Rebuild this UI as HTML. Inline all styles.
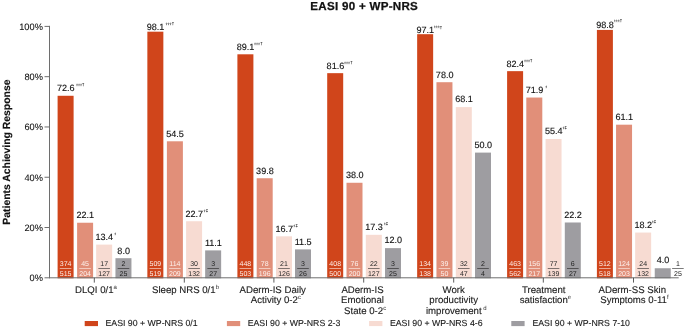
<!DOCTYPE html>
<html><head><meta charset="utf-8"><title>EASI 90 + WP-NRS</title>
<style>
html,body{margin:0;padding:0;background:#fff;}
body{width:685px;height:328px;overflow:hidden;}
svg{display:block;will-change:transform;font-family:"Liberation Sans",sans-serif;}
text{fill:#1a1a1a;text-rendering:geometricPrecision;}
.t{font-size:11.6px;letter-spacing:0.28px;font-weight:bold;fill:#111;stroke:#111;stroke-width:0.25px;}
.yl{font-size:10.4px;font-weight:bold;fill:#111;stroke:#111;stroke-width:0.15px;}
.tk{font-size:9.25px;fill:#111;stroke:#111;stroke-width:0.08px;}
.v{font-size:9.05px;fill:#111;stroke:#111;stroke-width:0.13px;}
.s{font-size:4.7px;fill:#3a3a3a;stroke:#3a3a3a;stroke-width:0.12px;}
.sa{font-size:8px;fill:#444;stroke:#444;stroke-width:0.1px;}
.sd{font-size:4.2px;fill:#333;stroke:#333;stroke-width:0.15px;}
.c{font-size:9.65px;fill:#1a1a1a;stroke:#1a1a1a;stroke-width:0.12px;}
.cs{font-size:6px;fill:#333;stroke:none;}
.f{font-size:7px;}
.lg{font-size:8.75px;fill:#1a1a1a;stroke:#1a1a1a;stroke-width:0.12px;}
</style></head><body>
<svg width="685" height="328" viewBox="0 0 685 328">
<rect width="685" height="328" fill="#fff"/>
<text class="t" x="364.2" y="10.2" text-anchor="middle">EASI 90 + WP-NRS</text>
<text class="yl" transform="translate(9.9,152.1) rotate(-90)" text-anchor="middle">Patients Achieving Response</text>

<rect x="57.60" y="95.78" width="16" height="182.52" fill="#D0451B"/>
<rect x="77.10" y="222.74" width="16" height="55.56" fill="#E18F79"/>
<rect x="96.15" y="244.61" width="16" height="33.69" fill="#F7DBD2"/>
<rect x="115.45" y="258.19" width="16" height="20.11" fill="#9E9DA1"/>
<rect x="147.35" y="31.68" width="16" height="246.62" fill="#D0451B"/>
<rect x="166.90" y="141.29" width="16" height="137.01" fill="#E18F79"/>
<rect x="186.10" y="221.23" width="16" height="57.07" fill="#F7DBD2"/>
<rect x="205.15" y="250.39" width="16" height="27.91" fill="#9E9DA1"/>
<rect x="237.40" y="54.30" width="16" height="224.00" fill="#D0451B"/>
<rect x="256.70" y="178.24" width="16" height="100.06" fill="#E18F79"/>
<rect x="276.00" y="236.32" width="16" height="41.98" fill="#F7DBD2"/>
<rect x="295.00" y="249.39" width="16" height="28.91" fill="#9E9DA1"/>
<rect x="327.20" y="73.16" width="16" height="205.14" fill="#D0451B"/>
<rect x="346.50" y="182.77" width="16" height="95.53" fill="#E18F79"/>
<rect x="365.80" y="234.81" width="16" height="43.49" fill="#F7DBD2"/>
<rect x="385.00" y="248.13" width="16" height="30.17" fill="#9E9DA1"/>
<rect x="417.15" y="34.19" width="16" height="244.11" fill="#D0451B"/>
<rect x="436.45" y="82.21" width="16" height="196.09" fill="#E18F79"/>
<rect x="455.80" y="107.10" width="16" height="171.20" fill="#F7DBD2"/>
<rect x="475.00" y="152.60" width="16" height="125.70" fill="#9E9DA1"/>
<rect x="507.10" y="71.15" width="16" height="207.15" fill="#D0451B"/>
<rect x="526.30" y="97.54" width="16" height="180.76" fill="#E18F79"/>
<rect x="545.55" y="139.02" width="16" height="139.28" fill="#F7DBD2"/>
<rect x="564.80" y="222.49" width="16" height="55.81" fill="#9E9DA1"/>
<rect x="596.90" y="29.92" width="16" height="248.38" fill="#D0451B"/>
<rect x="616.05" y="124.69" width="16" height="153.61" fill="#E18F79"/>
<rect x="635.15" y="232.55" width="16" height="45.75" fill="#F7DBD2"/>
<rect x="654.75" y="268.24" width="16" height="10.06" fill="#9E9DA1"/>
<g stroke="#6e6e6e" stroke-width="1" fill="none">
<line x1="49.5" y1="25.90" x2="49.5" y2="278.3"/>
<line x1="44.5" y1="277.8" x2="678.7" y2="277.8"/>
<line x1="44.5" y1="227.52" x2="50" y2="227.52"/>
<line x1="44.5" y1="177.24" x2="50" y2="177.24"/>
<line x1="44.5" y1="126.96" x2="50" y2="126.96"/>
<line x1="44.5" y1="76.68" x2="50" y2="76.68"/>
<line x1="44.5" y1="26.40" x2="50" y2="26.40"/>
</g>
<text class="tk" x="42.9" y="281.15" text-anchor="end">0%</text>
<text class="tk" x="42.9" y="230.87" text-anchor="end">20%</text>
<text class="tk" x="42.9" y="180.59" text-anchor="end">40%</text>
<text class="tk" x="42.9" y="130.31" text-anchor="end">60%</text>
<text class="tk" x="42.9" y="80.03" text-anchor="end">80%</text>
<text class="tk" x="42.9" y="29.75" text-anchor="end">100%</text>
<line x1="94.30" y1="277.8" x2="94.30" y2="282.6" stroke="#333" stroke-width="0.8"/>
<text class="v" x="65.80" y="91.13" text-anchor="middle">72.6</text>
<text class="sa" x="76.20" y="89.18" textLength="1.6" lengthAdjust="spacingAndGlyphs">*</text>
<text class="sa" x="78.20" y="89.18" textLength="1.6" lengthAdjust="spacingAndGlyphs">*</text>
<text class="sa" x="80.20" y="89.18" textLength="1.6" lengthAdjust="spacingAndGlyphs">*</text>
<text class="sd" x="82.10" y="86.23">†</text>
<text class="f" x="65.60" y="266.1" text-anchor="middle" style="fill:#FCEDE7">374</text>
<line x1="59.80" y1="268.5" x2="71.40" y2="268.5" stroke="#FCEDE7" stroke-width="0.6"/>
<text class="f" x="65.60" y="275.7" text-anchor="middle" style="fill:#FCEDE7">515</text>
<text class="v" x="85.30" y="218.09" text-anchor="middle">22.1</text>
<text class="f" x="85.10" y="266.1" text-anchor="middle" style="fill:#FDF1EC">45</text>
<line x1="79.30" y1="268.5" x2="90.90" y2="268.5" stroke="#FDF1EC" stroke-width="0.6"/>
<text class="f" x="85.10" y="275.7" text-anchor="middle" style="fill:#FDF1EC">204</text>
<text class="v" x="104.35" y="239.96" text-anchor="middle">13.4</text>
<text class="sa" x="114.50" y="238.01" textLength="1.6" lengthAdjust="spacingAndGlyphs">*</text>
<text class="f" x="104.15" y="266.1" text-anchor="middle" style="fill:#2a2a2a">17</text>
<line x1="98.35" y1="268.5" x2="109.95" y2="268.5" stroke="#2a2a2a" stroke-width="0.6"/>
<text class="f" x="104.15" y="275.7" text-anchor="middle" style="fill:#2a2a2a">127</text>
<text class="v" x="123.65" y="253.54" text-anchor="middle">8.0</text>
<text class="f" x="123.45" y="266.1" text-anchor="middle" style="fill:#222">2</text>
<line x1="117.65" y1="268.5" x2="129.25" y2="268.5" stroke="#222" stroke-width="0.6"/>
<text class="f" x="123.45" y="275.7" text-anchor="middle" style="fill:#222">25</text>
<text class="c" x="96.00" y="292.70" text-anchor="middle">DLQI 0/1<tspan class="cs" dy="-4">a</tspan></text>
<line x1="184.30" y1="277.8" x2="184.30" y2="282.6" stroke="#333" stroke-width="0.8"/>
<text class="v" x="155.55" y="29.78" text-anchor="middle">98.1</text>
<text class="sa" x="165.75" y="28.33" textLength="1.6" lengthAdjust="spacingAndGlyphs">*</text>
<text class="sa" x="167.75" y="28.33" textLength="1.6" lengthAdjust="spacingAndGlyphs">*</text>
<text class="sa" x="169.75" y="28.33" textLength="1.6" lengthAdjust="spacingAndGlyphs">*</text>
<text class="sd" x="171.65" y="25.38">†</text>
<text class="f" x="155.35" y="266.1" text-anchor="middle" style="fill:#FCEDE7">509</text>
<line x1="149.55" y1="268.5" x2="161.15" y2="268.5" stroke="#FCEDE7" stroke-width="0.6"/>
<text class="f" x="155.35" y="275.7" text-anchor="middle" style="fill:#FCEDE7">519</text>
<text class="v" x="175.10" y="136.64" text-anchor="middle">54.5</text>
<text class="f" x="174.90" y="266.1" text-anchor="middle" style="fill:#FDF1EC">114</text>
<line x1="169.10" y1="268.5" x2="180.70" y2="268.5" stroke="#FDF1EC" stroke-width="0.6"/>
<text class="f" x="174.90" y="275.7" text-anchor="middle" style="fill:#FDF1EC">209</text>
<text class="v" x="194.30" y="216.58" text-anchor="middle">22.7</text>
<text class="sa" x="203.80" y="214.63" textLength="1.6" lengthAdjust="spacingAndGlyphs">*</text>
<text class="sd" x="205.70" y="211.68">‡</text>
<text class="f" x="194.10" y="266.1" text-anchor="middle" style="fill:#2a2a2a">30</text>
<line x1="188.30" y1="268.5" x2="199.90" y2="268.5" stroke="#2a2a2a" stroke-width="0.6"/>
<text class="f" x="194.10" y="275.7" text-anchor="middle" style="fill:#2a2a2a">132</text>
<text class="v" x="213.35" y="245.74" text-anchor="middle">11.1</text>
<text class="f" x="213.15" y="266.1" text-anchor="middle" style="fill:#222">3</text>
<line x1="207.35" y1="268.5" x2="218.95" y2="268.5" stroke="#222" stroke-width="0.6"/>
<text class="f" x="213.15" y="275.7" text-anchor="middle" style="fill:#222">27</text>
<text class="c" x="185.50" y="292.70" text-anchor="middle">Sleep NRS 0/1<tspan class="cs" dy="-4">b</tspan></text>
<line x1="273.90" y1="277.8" x2="273.90" y2="282.6" stroke="#333" stroke-width="0.8"/>
<text class="v" x="245.60" y="49.65" text-anchor="middle">89.1</text>
<text class="sa" x="254.30" y="47.70" textLength="1.6" lengthAdjust="spacingAndGlyphs">*</text>
<text class="sa" x="256.30" y="47.70" textLength="1.6" lengthAdjust="spacingAndGlyphs">*</text>
<text class="sa" x="258.30" y="47.70" textLength="1.6" lengthAdjust="spacingAndGlyphs">*</text>
<text class="sd" x="260.20" y="44.75">†</text>
<text class="f" x="245.40" y="266.1" text-anchor="middle" style="fill:#FCEDE7">448</text>
<line x1="239.60" y1="268.5" x2="251.20" y2="268.5" stroke="#FCEDE7" stroke-width="0.6"/>
<text class="f" x="245.40" y="275.7" text-anchor="middle" style="fill:#FCEDE7">503</text>
<text class="v" x="264.90" y="173.59" text-anchor="middle">39.8</text>
<text class="f" x="264.70" y="266.1" text-anchor="middle" style="fill:#FDF1EC">78</text>
<line x1="258.90" y1="268.5" x2="270.50" y2="268.5" stroke="#FDF1EC" stroke-width="0.6"/>
<text class="f" x="264.70" y="275.7" text-anchor="middle" style="fill:#FDF1EC">196</text>
<text class="v" x="284.20" y="231.67" text-anchor="middle">16.7</text>
<text class="sa" x="293.60" y="229.72" textLength="1.6" lengthAdjust="spacingAndGlyphs">*</text>
<text class="sd" x="295.50" y="226.77">‡</text>
<text class="f" x="284.00" y="266.1" text-anchor="middle" style="fill:#2a2a2a">21</text>
<line x1="278.20" y1="268.5" x2="289.80" y2="268.5" stroke="#2a2a2a" stroke-width="0.6"/>
<text class="f" x="284.00" y="275.7" text-anchor="middle" style="fill:#2a2a2a">126</text>
<text class="v" x="303.20" y="244.74" text-anchor="middle">11.5</text>
<text class="f" x="303.00" y="266.1" text-anchor="middle" style="fill:#222">3</text>
<line x1="297.20" y1="268.5" x2="308.80" y2="268.5" stroke="#222" stroke-width="0.6"/>
<text class="f" x="303.00" y="275.7" text-anchor="middle" style="fill:#222">26</text>
<text class="c" x="272.70" y="292.70" text-anchor="middle">ADerm-IS Daily</text>
<text class="c" x="275.90" y="303.20" text-anchor="middle">Activity 0-2<tspan class="cs" dy="-4">c</tspan></text>
<line x1="363.70" y1="277.8" x2="363.70" y2="282.6" stroke="#333" stroke-width="0.8"/>
<text class="v" x="335.40" y="68.51" text-anchor="middle">81.6</text>
<text class="sa" x="344.30" y="66.56" textLength="1.6" lengthAdjust="spacingAndGlyphs">*</text>
<text class="sa" x="346.30" y="66.56" textLength="1.6" lengthAdjust="spacingAndGlyphs">*</text>
<text class="sa" x="348.30" y="66.56" textLength="1.6" lengthAdjust="spacingAndGlyphs">*</text>
<text class="sd" x="350.20" y="63.61">†</text>
<text class="f" x="335.20" y="266.1" text-anchor="middle" style="fill:#FCEDE7">408</text>
<line x1="329.40" y1="268.5" x2="341.00" y2="268.5" stroke="#FCEDE7" stroke-width="0.6"/>
<text class="f" x="335.20" y="275.7" text-anchor="middle" style="fill:#FCEDE7">500</text>
<text class="v" x="354.70" y="178.12" text-anchor="middle">38.0</text>
<text class="f" x="354.50" y="266.1" text-anchor="middle" style="fill:#FDF1EC">76</text>
<line x1="348.70" y1="268.5" x2="360.30" y2="268.5" stroke="#FDF1EC" stroke-width="0.6"/>
<text class="f" x="354.50" y="275.7" text-anchor="middle" style="fill:#FDF1EC">200</text>
<text class="v" x="374.00" y="230.16" text-anchor="middle">17.3</text>
<text class="sa" x="383.90" y="228.21" textLength="1.6" lengthAdjust="spacingAndGlyphs">*</text>
<text class="sd" x="385.80" y="225.26">‡</text>
<text class="f" x="373.80" y="266.1" text-anchor="middle" style="fill:#2a2a2a">22</text>
<line x1="368.00" y1="268.5" x2="379.60" y2="268.5" stroke="#2a2a2a" stroke-width="0.6"/>
<text class="f" x="373.80" y="275.7" text-anchor="middle" style="fill:#2a2a2a">127</text>
<text class="v" x="393.20" y="243.48" text-anchor="middle">12.0</text>
<text class="f" x="393.00" y="266.1" text-anchor="middle" style="fill:#222">3</text>
<line x1="387.20" y1="268.5" x2="398.80" y2="268.5" stroke="#222" stroke-width="0.6"/>
<text class="f" x="393.00" y="275.7" text-anchor="middle" style="fill:#222">25</text>
<text class="c" x="362.50" y="292.70" text-anchor="middle">ADerm-IS</text>
<text class="c" x="362.50" y="303.20" text-anchor="middle">Emotional</text>
<text class="c" x="365.10" y="313.70" text-anchor="middle">State 0-2<tspan class="cs" dy="-4">c</tspan></text>
<line x1="453.70" y1="277.8" x2="453.70" y2="282.6" stroke="#333" stroke-width="0.8"/>
<text class="v" x="425.35" y="32.54" text-anchor="middle">97.1</text>
<text class="sa" x="433.90" y="31.49" textLength="1.6" lengthAdjust="spacingAndGlyphs">*</text>
<text class="sa" x="435.90" y="31.49" textLength="1.6" lengthAdjust="spacingAndGlyphs">*</text>
<text class="sa" x="437.90" y="31.49" textLength="1.6" lengthAdjust="spacingAndGlyphs">*</text>
<text class="sd" x="439.80" y="28.54">†</text>
<text class="f" x="425.15" y="266.1" text-anchor="middle" style="fill:#FCEDE7">134</text>
<line x1="419.35" y1="268.5" x2="430.95" y2="268.5" stroke="#FCEDE7" stroke-width="0.6"/>
<text class="f" x="425.15" y="275.7" text-anchor="middle" style="fill:#FCEDE7">138</text>
<text class="v" x="444.65" y="77.56" text-anchor="middle">78.0</text>
<text class="f" x="444.45" y="266.1" text-anchor="middle" style="fill:#FDF1EC">39</text>
<line x1="438.65" y1="268.5" x2="450.25" y2="268.5" stroke="#FDF1EC" stroke-width="0.6"/>
<text class="f" x="444.45" y="275.7" text-anchor="middle" style="fill:#FDF1EC">50</text>
<text class="v" x="464.00" y="102.45" text-anchor="middle">68.1</text>
<text class="f" x="463.80" y="266.1" text-anchor="middle" style="fill:#2a2a2a">32</text>
<line x1="458.00" y1="268.5" x2="469.60" y2="268.5" stroke="#2a2a2a" stroke-width="0.6"/>
<text class="f" x="463.80" y="275.7" text-anchor="middle" style="fill:#2a2a2a">47</text>
<text class="v" x="483.20" y="147.95" text-anchor="middle">50.0</text>
<text class="f" x="483.00" y="266.1" text-anchor="middle" style="fill:#222">2</text>
<line x1="477.20" y1="268.5" x2="488.80" y2="268.5" stroke="#222" stroke-width="0.6"/>
<text class="f" x="483.00" y="275.7" text-anchor="middle" style="fill:#222">4</text>
<text class="c" x="453.70" y="292.70" text-anchor="middle">Work</text>
<text class="c" x="453.70" y="303.20" text-anchor="middle">productivity</text>
<text class="c" x="456.30" y="313.70" text-anchor="middle">improvement<tspan class="cs" dy="-4"> d</tspan></text>
<line x1="543.30" y1="277.8" x2="543.30" y2="282.6" stroke="#333" stroke-width="0.8"/>
<text class="v" x="515.30" y="66.50" text-anchor="middle">82.4</text>
<text class="sa" x="524.20" y="64.55" textLength="1.6" lengthAdjust="spacingAndGlyphs">*</text>
<text class="sa" x="526.20" y="64.55" textLength="1.6" lengthAdjust="spacingAndGlyphs">*</text>
<text class="sa" x="528.20" y="64.55" textLength="1.6" lengthAdjust="spacingAndGlyphs">*</text>
<text class="sd" x="530.10" y="61.60">†</text>
<text class="f" x="515.10" y="266.1" text-anchor="middle" style="fill:#FCEDE7">463</text>
<line x1="509.30" y1="268.5" x2="520.90" y2="268.5" stroke="#FCEDE7" stroke-width="0.6"/>
<text class="f" x="515.10" y="275.7" text-anchor="middle" style="fill:#FCEDE7">562</text>
<text class="v" x="534.50" y="92.89" text-anchor="middle">71.9</text>
<text class="sa" x="545.60" y="90.94" textLength="1.6" lengthAdjust="spacingAndGlyphs">*</text>
<text class="f" x="534.30" y="266.1" text-anchor="middle" style="fill:#FDF1EC">156</text>
<line x1="528.50" y1="268.5" x2="540.10" y2="268.5" stroke="#FDF1EC" stroke-width="0.6"/>
<text class="f" x="534.30" y="275.7" text-anchor="middle" style="fill:#FDF1EC">217</text>
<text class="v" x="553.75" y="134.37" text-anchor="middle">55.4</text>
<text class="sa" x="562.65" y="132.42" textLength="1.6" lengthAdjust="spacingAndGlyphs">*</text>
<text class="sd" x="564.55" y="129.47">‡</text>
<text class="f" x="553.55" y="266.1" text-anchor="middle" style="fill:#2a2a2a">77</text>
<line x1="547.75" y1="268.5" x2="559.35" y2="268.5" stroke="#2a2a2a" stroke-width="0.6"/>
<text class="f" x="553.55" y="275.7" text-anchor="middle" style="fill:#2a2a2a">139</text>
<text class="v" x="573.00" y="217.84" text-anchor="middle">22.2</text>
<text class="f" x="572.80" y="266.1" text-anchor="middle" style="fill:#222">6</text>
<line x1="567.00" y1="268.5" x2="578.60" y2="268.5" stroke="#222" stroke-width="0.6"/>
<text class="f" x="572.80" y="275.7" text-anchor="middle" style="fill:#222">27</text>
<text class="c" x="543.70" y="292.70" text-anchor="middle">Treatment</text>
<text class="c" x="545.40" y="303.20" text-anchor="middle">satisfaction<tspan class="cs" dy="-4">e</tspan></text>
<line x1="633.50" y1="277.8" x2="633.50" y2="282.6" stroke="#333" stroke-width="0.8"/>
<text class="v" x="605.10" y="28.32" text-anchor="middle">98.8</text>
<text class="sa" x="613.90" y="24.77" textLength="1.6" lengthAdjust="spacingAndGlyphs">*</text>
<text class="sa" x="615.90" y="24.77" textLength="1.6" lengthAdjust="spacingAndGlyphs">*</text>
<text class="sa" x="617.90" y="24.77" textLength="1.6" lengthAdjust="spacingAndGlyphs">*</text>
<text class="sd" x="619.80" y="21.82">†</text>
<text class="f" x="604.90" y="266.1" text-anchor="middle" style="fill:#FCEDE7">512</text>
<line x1="599.10" y1="268.5" x2="610.70" y2="268.5" stroke="#FCEDE7" stroke-width="0.6"/>
<text class="f" x="604.90" y="275.7" text-anchor="middle" style="fill:#FCEDE7">518</text>
<text class="v" x="624.25" y="120.04" text-anchor="middle">61.1</text>
<text class="f" x="624.05" y="266.1" text-anchor="middle" style="fill:#FDF1EC">124</text>
<line x1="618.25" y1="268.5" x2="629.85" y2="268.5" stroke="#FDF1EC" stroke-width="0.6"/>
<text class="f" x="624.05" y="275.7" text-anchor="middle" style="fill:#FDF1EC">203</text>
<text class="v" x="643.35" y="227.90" text-anchor="middle">18.2</text>
<text class="sa" x="651.90" y="225.95" textLength="1.6" lengthAdjust="spacingAndGlyphs">*</text>
<text class="sd" x="653.80" y="223.00">‡</text>
<text class="f" x="643.15" y="266.1" text-anchor="middle" style="fill:#2a2a2a">24</text>
<line x1="637.35" y1="268.5" x2="648.95" y2="268.5" stroke="#2a2a2a" stroke-width="0.6"/>
<text class="f" x="643.15" y="275.7" text-anchor="middle" style="fill:#2a2a2a">132</text>
<text class="v" x="662.95" y="263.24" text-anchor="middle">4.0</text>
<text class="f" x="677.90" y="266.1" text-anchor="middle" style="fill:#222">1</text>
<line x1="672.10" y1="268.5" x2="683.70" y2="268.5" stroke="#222" stroke-width="0.6"/>
<text class="f" x="677.90" y="275.7" text-anchor="middle" style="fill:#222">25</text>
<text class="c" x="632.30" y="292.70" text-anchor="middle">ADerm-SS Skin</text>
<text class="c" x="634.40" y="303.20" text-anchor="middle">Symptoms 0-11<tspan class="cs" dy="-4">f</tspan></text>
<rect x="84.70" y="321" width="13.3" height="5.1" fill="#D0451B"/>
<text class="lg" x="105.50" y="326.1">EASI 90 + WP-NRS 0/1</text>
<rect x="226.90" y="321" width="13.3" height="5.1" fill="#E18F79"/>
<text class="lg" x="247.70" y="326.1">EASI 90 + WP-NRS 2-3</text>
<rect x="369.10" y="321" width="13.3" height="5.1" fill="#F7DBD2"/>
<text class="lg" x="389.90" y="326.1">EASI 90 + WP-NRS 4-6</text>
<rect x="511.30" y="321" width="13.3" height="5.1" fill="#9E9DA1"/>
<text class="lg" x="532.40" y="326.1">EASI 90 + WP-NRS 7-10</text>
</svg></body></html>
